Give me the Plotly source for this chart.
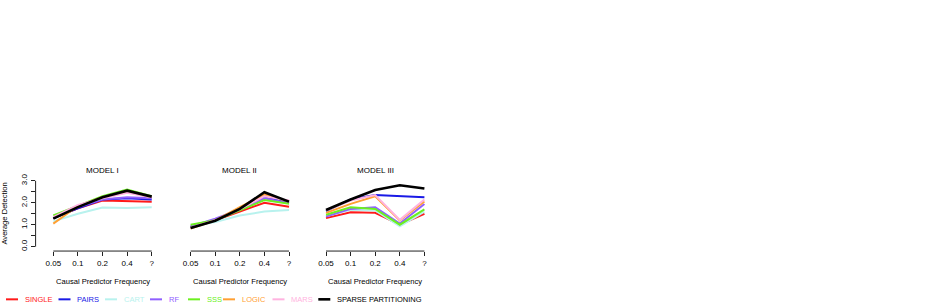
import plotly.graph_objects as go

# ---------------- data ----------------
freq_labels = ["0.05", "0.1", "0.2", "0.4", "?"]
panel_titles = ["MODEL I", "MODEL II", "MODEL III"]
method_names = ["SINGLE", "PAIRS", "CART", "RF", "SSS", "LOGIC", "MARS", "SPARSE PARTITIONING"]

model1_single = [1.30, 1.75, 2.10, 2.08, 2.05]
model1_pairs = [1.30, 1.75, 2.15, 2.20, 2.15]
model1_cart = [1.15, 1.50, 1.78, 1.76, 1.80]
model1_rf = [1.30, 1.80, 2.15, 2.25, 2.20]
model1_sss = [1.42, 1.85, 2.30, 2.60, 2.30]
model1_logic = [1.05, 1.85, 2.25, 2.50, 2.25]
model1_mars = [1.35, 1.90, 2.20, 2.45, 2.25]
model1_sparse = [1.28, 1.80, 2.25, 2.55, 2.28]

model2_single = [0.90, 1.20, 1.60, 2.00, 1.82]
model2_pairs = [0.90, 1.22, 1.68, 2.28, 2.00]
model2_cart = [0.95, 1.12, 1.42, 1.60, 1.67]
model2_rf = [0.92, 1.27, 1.70, 2.20, 1.98]
model2_sss = [1.00, 1.20, 1.65, 2.12, 1.95]
model2_logic = [0.82, 1.20, 1.80, 2.38, 2.05]
model2_mars = [0.88, 1.20, 1.70, 2.30, 2.10]
model2_sparse = [0.85, 1.18, 1.72, 2.48, 2.05]

model3_single = [1.30, 1.57, 1.54, 1.00, 1.50]
model3_pairs = [1.62, 2.15, 2.35, 2.30, 2.25]
model3_cart = [1.40, 1.68, 1.65, 0.93, 1.60]
model3_rf = [1.37, 1.72, 1.80, 1.05, 1.94]
model3_sss = [1.45, 1.79, 1.72, 1.00, 1.70]
model3_logic = [1.54, 1.95, 2.29, 1.19, 2.06]
model3_mars = [1.64, 2.10, 2.35, 1.22, 2.15]
model3_sparse = [1.67, 2.15, 2.58, 2.80, 2.65]

y_ticks = [0.0, 0.5, 1.0, 1.5, 2.0, 2.5, 3.0]
y_tick_labels = ["0.0", "", "1.0", "", "2.0", "", "3.0"]

# ---------------- styles ----------------
colors = ["#FF1A1A", "#1A1AE6", "#B8F2EE", "#9060FF", "#6CF020", "#FFA033", "#FFB3E0", "#000000"]
widths = [2, 2, 2, 2, 2, 2, 2, 2.6]
FONT = "Liberation Sans, Arial, Helvetica, sans-serif"
W, H = 928, 304

models = [
    [model1_single, model1_pairs, model1_cart, model1_rf, model1_sss, model1_logic, model1_mars, model1_sparse],
    [model2_single, model2_pairs, model2_cart, model2_rf, model2_sss, model2_logic, model2_mars, model2_sparse],
    [model3_single, model3_pairs, model3_cart, model3_rf, model3_sss, model3_logic, model3_mars, model3_sparse],
]

xpos = list(range(1, len(freq_labels) + 1))
x_range = [0.28, 5.2]
px_per_unit = 24.6
panel_left_px = [35.6, 172.9, 308.3]
y_top_px, y_bot_px = 175.0, 250.7
y_range = [-0.2, 3.226]

fig = go.Figure()
layout = dict(
    width=W, height=H, margin=dict(l=0, r=0, t=0, b=0),
    paper_bgcolor="white", plot_bgcolor="white", showlegend=False,
    font=dict(family=FONT, size=8, color="black"),
)
shapes = []
annotations = []

for k, series in enumerate(models):
    sx = "" if k == 0 else str(k + 1)
    left = panel_left_px[k]
    right = left + px_per_unit * (x_range[1] - x_range[0])
    layout["xaxis" + sx] = dict(
        domain=[left / W, right / W], range=x_range, anchor="y" + sx,
        tickvals=xpos, ticktext=freq_labels, ticks="outside", ticklen=4,
        tickcolor="#222", showgrid=False, zeroline=False, showline=False,
        tickfont=dict(size=8, family=FONT, color="black"), fixedrange=True,
    )
    layout["yaxis" + sx] = dict(
        domain=[1 - y_bot_px / H, 1 - y_top_px / H], range=y_range, anchor="x" + sx,
        showgrid=False, zeroline=False, showline=False, fixedrange=True,
    )
    if k == 0:
        layout["yaxis"].update(
            tickvals=y_ticks, ticktext=y_tick_labels, ticks="outside", ticklen=4,
            tickcolor="#222", tickangle=-90, tickfont=dict(size=8, family=FONT, color="black"),
        )
        shapes.append(dict(type="line", xref="x domain", yref="y", x0=0, x1=0,
                           y0=y_ticks[0], y1=y_ticks[-1], line=dict(color="#222", width=1)))
        annotations.append(dict(text="Average Detection", xref="paper", yref="paper",
                                x=5 / W, y=1 - 213 / H, textangle=-90, showarrow=False,
                                font=dict(size=7.6, family=FONT, color="black"),
                                xanchor="center", yanchor="middle"))
    else:
        layout["yaxis" + sx].update(showticklabels=False, ticks="")
    # x axis line between first and last tick
    shapes.append(dict(type="line", xref="x" + sx, yref="y" + sx + " domain",
                       x0=xpos[0], x1=xpos[-1], y0=0, y1=0, line=dict(color="#222", width=1)))
    # panel title and x-axis label
    annotations.append(dict(text=panel_titles[k], xref="x" + sx, yref="paper", x=3,
                            y=1 - 170 / H, showarrow=False, xanchor="center", yanchor="middle",
                            font=dict(size=8, family=FONT, color="black")))
    annotations.append(dict(text="Causal Predictor Frequency", xref="x" + sx, yref="paper", x=3,
                            y=1 - 281 / H, showarrow=False, xanchor="center", yanchor="middle",
                            font=dict(size=7.6, family=FONT, color="black")))
    for i, vals in enumerate(series):
        fig.add_trace(go.Scatter(
            x=xpos, y=vals, mode="lines", name=method_names[i],
            line=dict(color=colors[i], width=widths[i]),
            xaxis="x" + sx, yaxis="y" + sx, showlegend=False, hoverinfo="skip",
        ))

# manual R-style legend at the bottom
legend_line_px = [6, 58.5, 105, 150, 188, 223, 272.5, 318.3]
legend_y = 1 - 299.3 / H
for i, name in enumerate(method_names):
    x0 = legend_line_px[i]
    shapes.append(dict(type="line", xref="paper", yref="paper", x0=x0 / W, x1=(x0 + 12) / W,
                       y0=legend_y, y1=legend_y, line=dict(color=colors[i], width=widths[i])))
    annotations.append(dict(text=name, xref="paper", yref="paper", x=(x0 + 16.5) / W, y=legend_y,
                            xanchor="left", yanchor="middle", showarrow=False,
                            font=dict(size=7.5, family=FONT, color=colors[i])))

layout["shapes"] = shapes
layout["annotations"] = annotations
fig.update_layout(**layout)
fig.write_html(
    "out.html",
    config={"displayModeBar": False},
    post_script="document.body.style.margin='0';document.body.style.overflow='hidden';",
)
